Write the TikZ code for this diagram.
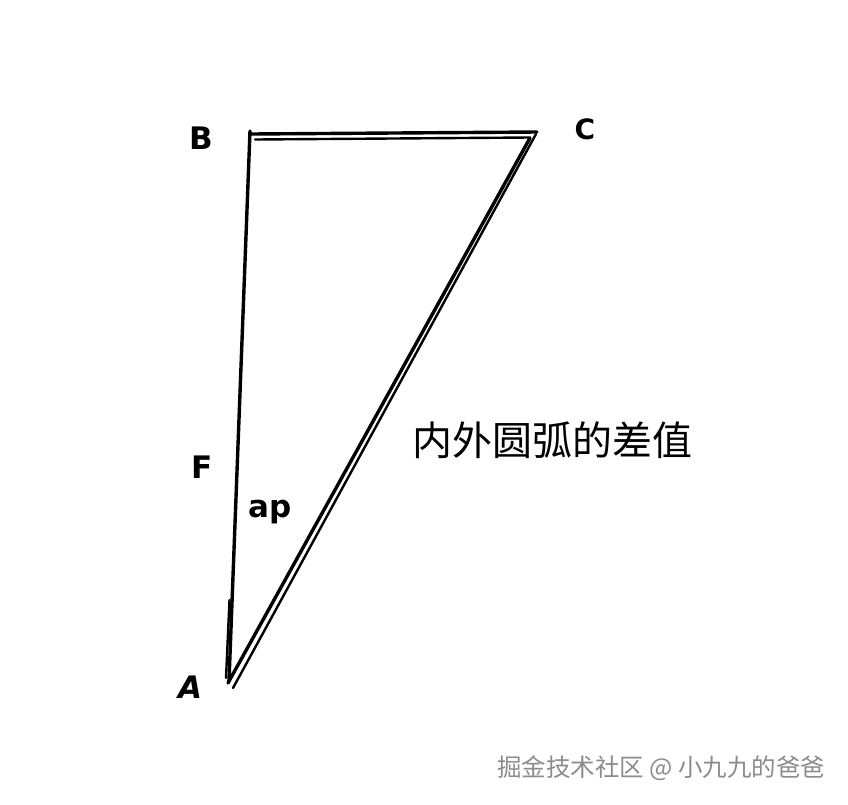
\documentclass[tikz,border=0pt]{standalone}
\usepackage{fontspec}
\setmainfont{DejaVu Sans}
\newfontfamily\cjk{Noto Sans CJK SC}
\begin{document}
\begin{tikzpicture}[x=1pt,y=-1pt,
  stroke/.style={line width=3.4pt,line cap=round,line join=round,black},
  thin stroke/.style={line width=2.4pt,line cap=round,black},
  lbl/.style={font=\fontsize{31}{31}\selectfont\bfseries,inner sep=0pt},
  wm/.style={font=\cjk\fontsize{24.5}{24.5}\selectfont,inner sep=0pt,anchor=west}]
\useasboundingbox (0,0) rectangle (848,804);
\fill[white] (0,0) rectangle (848,804);
% corner coordinates
\coordinate (Btop) at (250,131);
\coordinate (Abot) at (229,681);
\coordinate (B1) at (251,134);
\coordinate (C1) at (537,132);
\coordinate (B2) at (255,139.5);
\coordinate (C2) at (530,137.5);
\coordinate (Cd1) at (530,138);
\coordinate (Ad1) at (228,683);
\coordinate (Cd2) at (536,134);
\coordinate (Ad2) at (233,688);
\coordinate (Al1) at (229.5,600);
\coordinate (Al2) at (226,678);
% lines
\draw[stroke] (Btop) -- (Abot);
\draw[thin stroke] (Al1) -- (Al2);
\draw[stroke] (B1) -- (C1);
\draw[thin stroke] (B2) -- (C2);
\draw[stroke] (Cd1) -- (Ad1);
\draw[thin stroke] (Cd2) -- (Ad2);
% labels
\node[lbl] (B) at (201,138) {B};
\node[lbl,font=\fontsize{28}{28}\selectfont\bfseries] (C) at (585,129) {C};
\node[lbl] (F) at (202,467) {F};
\node[lbl] (ap) at (270,512) {ap};
\node[lbl,font=\fontsize{31}{31}\selectfont\itshape\bfseries] (A) at (190,687) {A};
\node[inner sep=0pt,font=\cjk\fontsize{40}{40}\selectfont] (diff) at (552,440) {内外圆弧的差值};
% watermark
\node[wm,text=white] (wm2) at (498.5,769.5) {掘金技术社区 @ 小九九的爸爸};
\node[wm,text=black!45] (wm) at (497,768) {掘金技术社区 @ 小九九的爸爸};
\end{tikzpicture}
\end{document}
